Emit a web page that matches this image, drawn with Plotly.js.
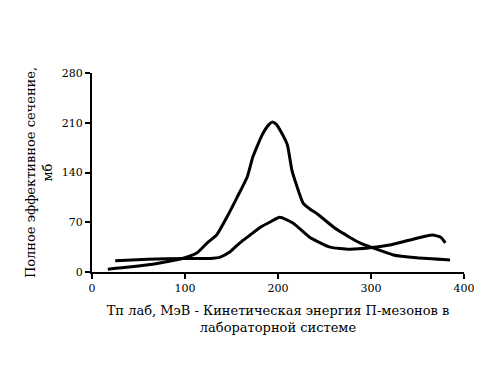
<!DOCTYPE html>
<html><head><meta charset="utf-8">
<script src="https://cdn.plot.ly/plotly-3.0.1.min.js"></script>
<style>html,body{margin:0;padding:0;background:#fff}</style>
</head><body>
<div id="chart" style="width:493px;height:380px"></div>
<script>
const xPeak = [17, 40, 70, 100, 113, 124, 134, 145, 156, 167, 173, 183, 190, 194, 198, 202, 210, 215, 220, 227, 235, 242, 263, 288, 302, 324, 349, 385];
const yPeak = [4, 7, 12, 20, 27, 41, 52, 77, 105, 134, 162, 193, 207, 211, 208, 200, 179, 143, 122, 97, 88, 82, 60, 41, 34, 24, 20, 17];
const xLow = [25, 60, 100, 127, 138, 148, 159, 170, 181, 191, 202, 216, 234, 256, 277, 299, 320, 342, 366, 375, 380];
const yLow = [16, 18, 19, 19, 21, 28, 41, 52, 63, 70, 77, 69, 49, 35, 32, 34, 38, 45, 52, 49, 41];
const xTicks = [0, 100, 200, 300, 400];
const yTicks = [0, 70, 140, 210, 280];
const xTitle = 'Tп лаб, МэВ - Кинетическая энергия П-мезонов в<br>лабораторной системе';
const yTitle = 'Полное эффективное сечение,<br>мб';

const line = {color: '#000', width: 3, shape: 'spline', smoothing: 0.5};
const fam = 'DejaVu Serif';
const mk = s => ({family: fam, size: s, color: '#000'});
Plotly.newPlot('chart', [
  {x: xPeak, y: yPeak, mode: 'lines', line: line, hoverinfo: 'skip'},
  {x: xLow, y: yLow, mode: 'lines', line: line, hoverinfo: 'skip'}
], {
  width: 493, height: 380,
  margin: {l: 92, r: 29, t: 73, b: 108},
  paper_bgcolor: '#fff', plot_bgcolor: '#fff',
  showlegend: false,
  font: mk(11),
  xaxis: {
    range: [0, 400], tickvals: xTicks, ticktext: xTicks.map(String),
    showgrid: false, zeroline: false, showline: true, linecolor: '#000', linewidth: 2,
    ticks: 'outside', ticklen: 5, tickwidth: 2, tickcolor: '#000',
    tickfont: mk(11),
    title: {text: xTitle, font: mk(13), standoff: 12}
  },
  yaxis: {
    range: [0, 280], tickvals: yTicks, ticktext: yTicks.map(String),
    showgrid: false, zeroline: false, showline: true, linecolor: '#000', linewidth: 2,
    ticks: 'outside', ticklen: 5, tickwidth: 2, tickcolor: '#000',
    tickfont: mk(11),
    title: {text: yTitle, font: mk(13), standoff: 6}
  }
}, {displayModeBar: false, staticPlot: true});
</script>
</body></html>
